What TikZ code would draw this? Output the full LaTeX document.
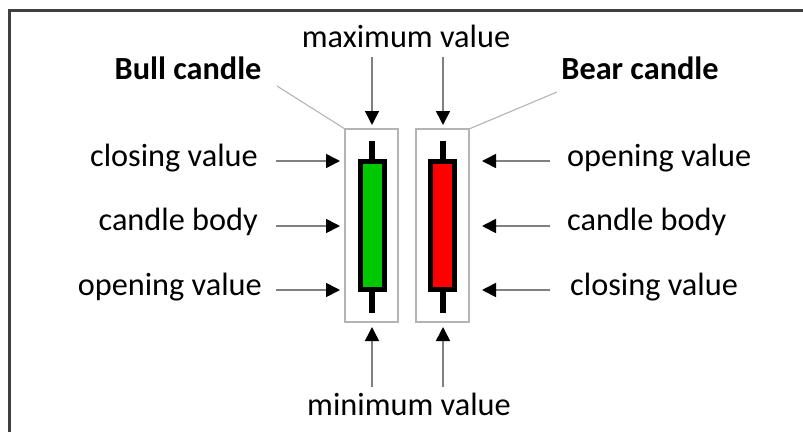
\documentclass[tikz,border=0pt]{standalone}
\usepackage{fontspec}
\setmainfont{Carlito}
\usetikzlibrary{arrows.meta}
\definecolor{framegray}{HTML}{404040}
\definecolor{boxgray}{HTML}{B4B4B4}
\definecolor{arrowgray}{HTML}{808080}
\definecolor{bullgreen}{RGB}{0,200,0}
\definecolor{bearred}{RGB}{255,0,0}
\begin{document}
\begin{tikzpicture}[x=1pt,y=-1pt,
  lbl/.style={inner sep=0pt,font=\fontsize{32.3}{38}\selectfont},
  ttl/.style={inner sep=0pt,font=\fontsize{32.3}{38}\selectfont\bfseries},
  pointer/.style={draw=arrowgray,line width=1.6pt,-{Triangle[length=14pt,width=14pt,color=black]}},
  leader/.style={draw=boxgray,line width=1.1pt},
  holder/.style={draw=boxgray,line width=1.1pt},
  wick/.style={line width=6pt,black},
  body/.style={draw=black,line width=5pt}]
\useasboundingbox (0,0) rectangle (803,432);
\draw[framegray,line width=3pt] (9,432) -- (9,10) -- (803,10);

% holders
\draw[holder] (345,129) rectangle (398,322);
\draw[holder] (416,129) rectangle (469,322);
\coordinate (bullTL) at (345,129);
\coordinate (bearTR) at (469,129);

% candles
\draw[wick] (372,141) -- (372,313);
\filldraw[body,fill=bullgreen] (360.5,161.5) rectangle (384.5,289.5);
\draw[wick] (443,141) -- (443,313);
\filldraw[body,fill=bearred] (430.5,161.5) rectangle (454.5,289.5);

% labels
\node[lbl,anchor=base] (max) at (406,47) {maximum value};
\node[lbl,anchor=base] (min) at (409,415) {minimum value};
\node[ttl,anchor=base] (bull) at (188,79) {Bull candle};
\node[ttl,anchor=base] (bear) at (640,79) {Bear candle};
\node[lbl,anchor=base east] (lclose) at (258,166) {closing value};
\node[lbl,anchor=base east] (lbody) at (258,230) {candle body};
\node[lbl,anchor=base east] (lopen) at (262,295) {opening value};
\node[lbl,anchor=base west] (ropen) at (567,166) {opening value};
\node[lbl,anchor=base west] (rbody) at (567,230) {candle body};
\node[lbl,anchor=base west] (rclose) at (570,295) {closing value};

% arrow endpoints
\coordinate (tmax1) at (372,125); \coordinate (smax1) at (372,57);
\coordinate (tmax2) at (443,125); \coordinate (smax2) at (443,57);
\coordinate (tmin1) at (372,327); \coordinate (smin1) at (372,387);
\coordinate (tmin2) at (443,327); \coordinate (smin2) at (443,387);
\coordinate (tl1) at (340,161); \coordinate (sl1) at (276,161);
\coordinate (tl2) at (340,226); \coordinate (sl2) at (276,226);
\coordinate (tl3) at (340,290); \coordinate (sl3) at (276,290);
\coordinate (tr1) at (482,161); \coordinate (sr1) at (550,161);
\coordinate (tr2) at (482,226); \coordinate (sr2) at (550,226);
\coordinate (tr3) at (482,290); \coordinate (sr3) at (550,290);
\coordinate (bullL) at (277,86);
\coordinate (bearL) at (557,92);

\draw[pointer] (smax1) -- (tmax1);
\draw[pointer] (smax2) -- (tmax2);
\draw[pointer] (smin1) -- (tmin1);
\draw[pointer] (smin2) -- (tmin2);
\draw[pointer] (sl1) -- (tl1);
\draw[pointer] (sl2) -- (tl2);
\draw[pointer] (sl3) -- (tl3);
\draw[pointer] (sr1) -- (tr1);
\draw[pointer] (sr2) -- (tr2);
\draw[pointer] (sr3) -- (tr3);
\draw[leader] (bullL) -- (bullTL);
\draw[leader] (bearL) -- (bearTR);
\end{tikzpicture}
\end{document}
